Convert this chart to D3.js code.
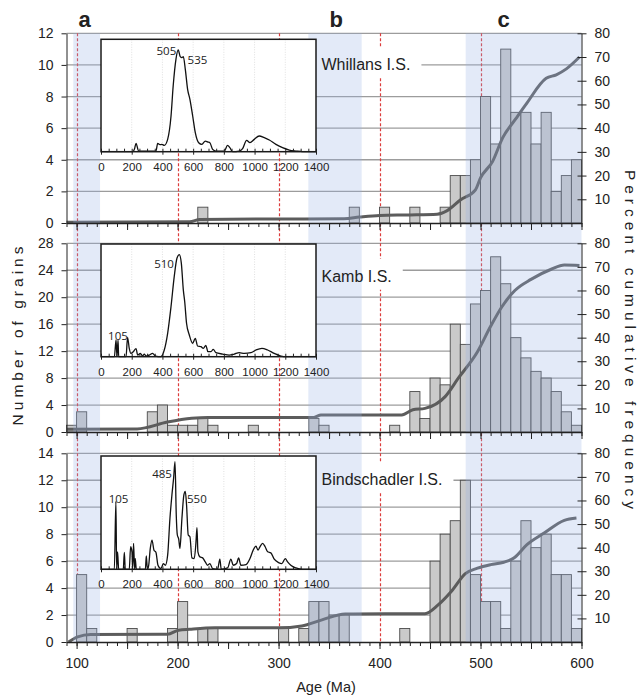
<!DOCTYPE html>
<html>
<head>
<meta charset="utf-8">
<script src="https://cdn.jsdelivr.net/npm/d3@7"></script>
<style>
body { margin: 0; background: #fff; }
svg text { font-family: "Liberation Sans", Arial, sans-serif; fill: #222; }
</style>
</head>
<body>
<script>
// ----------------------------------- DATA --------------------------------------------
var panelNames = ['Whillans I.S.', 'Kamb I.S.', 'Bindschadler I.S.']

// [bin start age (Ma), number of grains], bins are 10 Ma wide
var whillansCounts = [[220,1],[370,1],[400,1],[430,1],[460,1],[470,3],[480,3],[490,4],[500,8],[510,5],
	[520,11],[530,7],[540,7],[550,5],[560,7],[570,2],[580,3],[590,4]]
var kambCounts = [[90,1],[100,3],[170,3],[180,4],[190,1],[200,1],[210,1],[220,2],[230,1],[270,1],[330,2],
	[340,1],[410,1],[430,6],[440,2],[450,8],[460,7],[470,16],[480,13],[490,19],[500,21],[510,26],[520,22],
	[530,14],[540,11],[550,9],[560,8],[570,6],[580,3],[590,1]]
var bindCounts = [[100,5],[110,1],[150,1],[190,1],[200,3],[220,1],[230,1],[300,1],[320,1],[330,3],[340,3],
	[350,2],[360,2],[420,1],[450,6],[460,8],[470,9],[480,12],[490,5],[500,3],[510,3],[520,1],[530,6],
	[540,9],[550,7],[560,8],[570,5],[580,5],[590,1]]

// [age, percent cumulative frequency]
var whillansCum = [[90,0.3],[212,0.5],[222,1.5],[300,1.7],[365,1.8],[380,2.5],[400,3.2],[430,3.4],[457,3.7],
	[467,5.2],[480,9.7],[495,14],[500,19],[512,26],[522,36],[535,44],[545,50],[565,61],[575,62.5],[585,65],[598,70]]
var kambCum = [[90,1.2],[160,1.3],[190,4.2],[214,5.8],[230,6.2],[335,6.2],[342,7.2],[422,7.2],[433,9.4],
	[445,10],[465,15],[478,22.8],[497,34],[510,44.8],[521,53],[534,60],[550,64.7],[570,69],[583,70.8],[598,70.6]]
var bindCum = [[92,0],[101,2.2],[114,3.2],[190,3.3],[201,5],[212,5.4],[237,6],[300,6],[323,6.8],[343,9.4],
	[366,11.9],[445,12],[458,15.7],[471,21.4],[485,29],[497,31.3],[510,32.8],[523,33.8],[533,35.6],
	[546,41.3],[563,46.2],[583,51.6],[595,52.6]]

// inset probability density plots: [age, relative probability]
var whillansPdp = [[0,0],[206,0],[218,8],[228,25],[245,2],[358,2],[369,25],[384,21],[397,22],[412,19],[434,37],
	[456,107],[470,197],[488,277],[503,305],[516,285],[527,282],[536,285],[549,247],[564,187],[579,157],
	[597,107],[614,57],[636,27],[657,22],[679,32],[696,29],[709,27],[727,7],[748,2],[803,2],[824,19],[839,12],
	[857,0],[900,2],[922,9],[948,34],[970,27],[998,37],[1030,47],[1063,42],[1096,35],[1139,22],[1182,12],
	[1226,5],[1269,2],[1312,0],[1400,0]]
var kambPdp = [[0,0],[87,0],[98,50],[104,0],[111,50],[115,0],[163,0],[173,58],[184,25],[195,10],[210,15],
	[228,24],[239,5],[256,10],[271,2],[282,8],[293,2],[315,5],[336,10],[354,2],[390,0],[412,20],[434,70],
	[456,150],[477,240],[495,295],[510,305],[523,280],[536,200],[545,165],[557,100],[575,65],[597,40],
	[614,55],[629,32],[651,30],[666,25],[683,34],[696,15],[716,15],[731,22],[748,12],[792,8],[835,5],
	[868,8],[900,12],[933,10],[976,12],[1009,20],[1048,25],[1085,20],[1128,10],[1171,2],[1204,0],[1400,0]]
var bindPdp = [[0,0],[87,0],[97,202],[102,0],[108,52],[115,0],[145,0],[152,50],[158,0],[184,0],[193,67],
	[202,50],[206,0],[212,77],[219,0],[223,32],[230,0],[289,0],[295,40],[302,0],[310,10],[321,62],[332,87],
	[345,57],[358,50],[371,12],[390,2],[406,17],[419,12],[434,42],[449,152],[462,222],[473,272],[482,320],
	[490,162],[497,102],[506,90],[514,62],[527,152],[540,222],[549,232],[557,192],[568,102],[579,97],
	[592,34],[607,32],[618,77],[625,124],[631,52],[644,37],[662,34],[679,22],[694,12],[709,17],[727,2],
	[759,0],[774,30],[783,0],[824,4],[846,30],[861,12],[883,17],[896,34],[911,12],[944,14],[970,32],
	[991,57],[1009,69],[1022,57],[1035,67],[1052,77],[1069,67],[1085,52],[1106,49],[1128,30],[1156,20],
	[1178,17],[1200,32],[1215,22],[1236,12],[1269,4],[1312,0],[1400,0]]

// peak labels in the insets: [text, age, relative probability, anchor]
var whillansPeaks = [['505',490,290,'end'],['535',564,263,'start']]
var kambPeaks = [['510',475,266,'end'],['105',46,50,'start']]
var bindPeaks = [['485',462,271,'end'],['550',560,196,'start'],['105',50,196,'start']]

var grainMax = [12, 28, 14]
var grainTicks = [[0,2,4,6,8,10,12],[0,4,8,12,16,20,24,28],[0,2,4,6,8,10,12,14]]
var pctTicks = [10,20,30,40,50,60,70,80]
var ageTicks = [100,200,300,400,500,600]
var insetTicks = [0,200,400,600,800,1000,1200,1400]

var zoneLetters = ['a','b','c']
var zoneStart = [96.7, 329.5, 485.3]
var zoneEnd = [123.2, 382.3, 600]
var letterAge = [108, 357, 523]
var markAges = [100, 200, 300, 400, 500]

var counts = [whillansCounts, kambCounts, bindCounts]
var cums = [whillansCum, kambCum, bindCum]
var pdps = [whillansPdp, kambPdp, bindPdp]
var peaks = [whillansPeaks, kambPeaks, bindPeaks]
// ----------------------------------------------------------------------------------------------

// ----------------------------------- SVG and LAYOUT --------------------------------------------
var width = 638
var height = 695

var svg = d3.select('body')
	.append('svg')
	.attr('width', width)
	.attr('height', height)

svg.append('rect')
	.attr('width', '100%')
	.attr('height', '100%')
	.attr('fill', 'white')

var panelTop = [33.3, 243.3, 453.3]
var panelBottom = [223, 432, 642]
var insetTop = [39.3, 244, 456]
var insetBottom = [151.7, 356.7, 569.3]
var labelBase = [70, 281.7, 485]

var x = d3.scaleLinear().domain([90, 600]).range([66.5, 581.5])
var insetX = d3.scaleLinear().domain([0, 1400]).range([101, 316])

var gGrid = svg.append('g')
var gRed = svg.append('g')
var gBars = svg.append('g')
var gCum = svg.append('g')
var gBox = svg.append('g')
var gShade = svg.append('g')
var gAxes = svg.append('g')
var gInset = svg.append('g')
var gText = svg.append('g')
// ----------------------------------------------------------------------------------------------

// ----------------------------------- RED MARKS + SHADES --------------------------------------------
gRed.selectAll('line')
	.data(markAges)
	.enter()
	.append('line')
	.attr('x1', function(d){ return Math.round(x(d)) + 0.5 })
	.attr('x2', function(d){ return Math.round(x(d)) + 0.5 })
	.attr('y1', panelTop[0])
	.attr('y2', panelBottom[2])
	.attr('stroke', '#dc3c3c')
	.attr('stroke-width', 1.2)
	.attr('stroke-dasharray', '3,2')

gShade.selectAll('rect')
	.data(zoneStart)
	.enter()
	.append('rect')
	.attr('x', function(d){ return x(d) })
	.attr('width', function(d, i){ return x(zoneEnd[i]) - x(d) })
	.attr('y', panelTop[0])
	.attr('height', panelBottom[2] - panelTop[0])
	.attr('fill', 'rgba(150,178,230,0.27)')

gText.selectAll('text.zone')
	.data(zoneLetters)
	.enter()
	.append('text')
	.attr('class', 'zone')
	.attr('x', function(d, i){ return x(letterAge[i]) })
	.attr('y', 27)
	.attr('text-anchor', 'middle')
	.attr('font-size', 22)
	.attr('font-weight', 'bold')
	.text(function(d){ return d })
// ----------------------------------------------------------------------------------------------

// ----------------------------------- PANELS --------------------------------------------
panelNames.forEach(function(name, i){
	var yL = d3.scaleLinear().domain([0, grainMax[i]]).range([panelBottom[i], panelTop[i]])
	var yR = d3.scaleLinear().domain([0, 80]).range([panelBottom[i], panelTop[i]])

	// gridlines
	gGrid.selectAll('line.g' + i)
		.data(grainTicks[i].slice(1))
		.enter()
		.append('line')
		.attr('class', 'g' + i)
		.attr('x1', x(90))
		.attr('x2', x(600))
		.attr('y1', function(d){ return yL(d) })
		.attr('y2', function(d){ return yL(d) })
		.attr('stroke', '#9c9c9c')
		.attr('stroke-width', 1.3)

	// bars
	gBars.selectAll('rect.b' + i)
		.data(counts[i])
		.enter()
		.append('rect')
		.attr('class', 'b' + i)
		.attr('x', function(d){ return x(d[0]) })
		.attr('width', function(d){ return x(d[0] + 10) - x(d[0]) })
		.attr('y', function(d){ return yL(d[1]) })
		.attr('height', function(d){ return yL(0) - yL(d[1]) })
		.attr('fill', '#cacaca')
		.attr('stroke', '#4a4a4a')
		.attr('stroke-width', 0.9)

	// cumulative curve
	var cumLine = d3.line()
		.x(function(d){ return x(d[0]) })
		.y(function(d){ return yR(d[1]) })
		.curve(d3.curveMonotoneX)

	gCum.append('path')
		.attr('d', cumLine(cums[i]))
		.attr('fill', 'none')
		.attr('stroke', '#5c5c5c')
		.attr('stroke-width', 3)

	// name label with a white box behind it
	var label = gText.append('text')
		.attr('x', 321.5)
		.attr('y', labelBase[i])
		.attr('font-size', 16)
		.attr('fill', '#333')
		.text(name)
	var bb = label.node().getBBox()
	gBox.append('rect')
		.attr('x', 316)
		.attr('y', labelBase[i] - 23)
		.attr('width', bb.x + bb.width + 11 - 316)
		.attr('height', 31)
		.attr('fill', 'white')

	// axes
	var axL = gAxes.append('g')
		.attr('transform', 'translate(' + x(90) + ',0)')
		.call(d3.axisLeft(yL).tickValues(grainTicks[i]).tickSize(5).tickSizeOuter(0).tickPadding(8))
	axL.attr('font-size', 14).attr('font-family', null)

	var axR = gAxes.append('g')
		.attr('transform', 'translate(' + x(600) + ',0)')
		.call(d3.axisRight(yR).tickValues(pctTicks).tickSize(5).tickSizeOuter(0).tickPadding(8))
	axR.attr('font-size', 14).attr('font-family', null)
	axR.selectAll('.tick line').attr('x1', -4)

	var minor = gAxes.append('g')
		.attr('transform', 'translate(0,' + panelBottom[i] + ')')
		.call(d3.axisBottom(x).ticks(51).tickSize(4).tickSizeOuter(0).tickFormat(''))
	minor.select('.domain').attr('stroke-width', 1.5)

	var major = gAxes.append('g')
		.attr('transform', 'translate(0,' + panelBottom[i] + ')')
		.call(d3.axisBottom(x).ticks(10).tickSize(7).tickSizeOuter(0).tickPadding(9)
			.tickFormat(function(d){ return (i === 2 && ageTicks.indexOf(d) >= 0) ? d : '' }))
	major.attr('font-size', 14).attr('font-family', null)
	major.select('.domain').remove()

	gAxes.selectAll('.tick line').attr('stroke', '#222')
	gAxes.selectAll('.domain').attr('stroke', '#222')

	// ---------------- inset ----------------
	var insetY = d3.scaleLinear().domain([0, 337]).range([insetBottom[i], insetTop[i]])
	var g = gInset.append('g')

	g.append('rect')
		.attr('x', insetX(0))
		.attr('y', insetTop[i])
		.attr('width', insetX(1400) - insetX(0))
		.attr('height', insetBottom[i] - insetTop[i])
		.attr('fill', 'white')

	g.selectAll('line.vg')
		.data(insetTicks.slice(1, -1))
		.enter()
		.append('line')
		.attr('class', 'vg')
		.attr('x1', function(d){ return insetX(d) })
		.attr('x2', function(d){ return insetX(d) })
		.attr('y1', insetTop[i])
		.attr('y2', insetBottom[i])
		.attr('stroke', '#d8d8d8')
		.attr('stroke-width', 0.8)
		.attr('stroke-dasharray', '1,1.5')

	var pdpLine = d3.line()
		.x(function(d){ return insetX(d[0]) })
		.y(function(d){ return insetY(d[1]) })
		.curve(d3.curveMonotoneX)

	g.append('path')
		.attr('d', pdpLine(pdps[i]))
		.attr('fill', 'none')
		.attr('stroke', '#111')
		.attr('stroke-width', 1.3)

	g.append('g')
		.attr('transform', 'translate(0,' + insetBottom[i] + ')')
		.call(d3.axisTop(insetX).ticks(28).tickSize(3).tickSizeOuter(0).tickFormat(''))
		.select('.domain').remove()

	var inAx = g.append('g')
		.attr('transform', 'translate(0,' + insetBottom[i] + ')')
		.call(d3.axisBottom(insetX).tickValues(insetTicks).tickSize(3).tickSizeOuter(0).tickPadding(8)
			.tickFormat(d3.format('d')))
	inAx.attr('font-size', 11.5).attr('font-family', null)
	inAx.select('.domain').remove()
	g.selectAll('.tick line').attr('stroke', '#222')

	g.append('rect')
		.attr('x', insetX(0))
		.attr('y', insetTop[i])
		.attr('width', insetX(1400) - insetX(0))
		.attr('height', insetBottom[i] - insetTop[i])
		.attr('fill', 'none')
		.attr('stroke', '#1a1a1a')
		.attr('stroke-width', 1.5)

	g.selectAll('text.pk')
		.data(peaks[i])
		.enter()
		.append('text')
		.attr('class', 'pk')
		.attr('x', function(d){ return insetX(d[1]) })
		.attr('y', function(d){ return insetY(d[2]) })
		.attr('text-anchor', function(d){ return d[3] })
		.attr('font-size', 11.5)
		.style('font-family', '"Open Sans", sans-serif')
		.text(function(d){ return d[0] })
})
// ----------------------------------------------------------------------------------------------

// ----------------------------------- TITLES --------------------------------------------
gText.append('text')
	.attr('x', 326)
	.attr('y', 692)
	.attr('text-anchor', 'middle')
	.attr('font-size', 14.5)
	.text('Age (Ma)')

gText.append('text')
	.attr('transform', 'translate(23,334) rotate(-90)')
	.attr('text-anchor', 'middle')
	.attr('font-size', 15.5)
	.attr('letter-spacing', 4)
	.text('Number of grains')

gText.append('text')
	.attr('transform', 'translate(625,342) rotate(90)')
	.attr('text-anchor', 'middle')
	.attr('font-size', 15.5)
	.attr('letter-spacing', 5)
	.text('Percent cumulative frequency')
// ----------------------------------------------------------------------------------------------
</script>
</body>
</html>
